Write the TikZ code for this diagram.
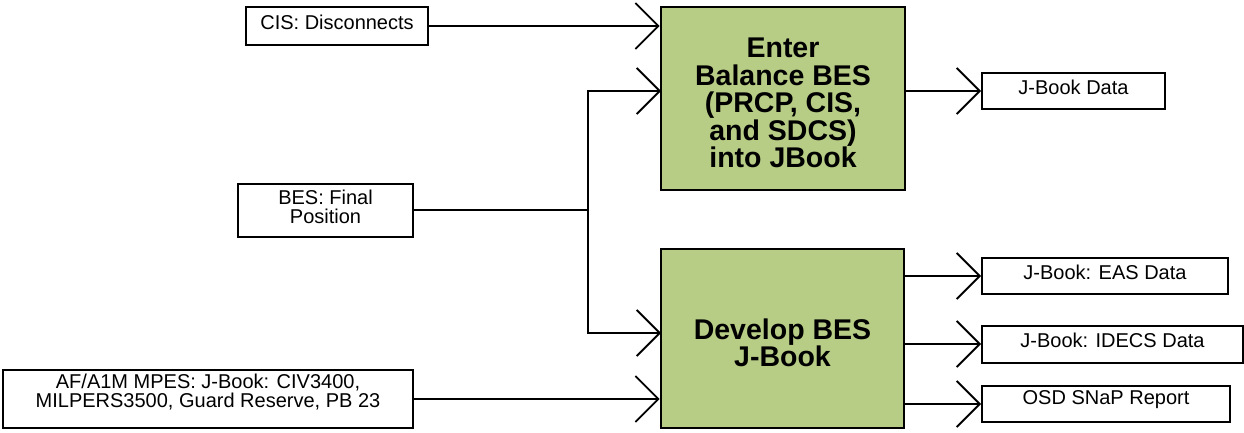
\documentclass[tikz,border=0pt]{standalone}
\usepackage{fontspec}
\setmainfont{Liberation Sans}
\usetikzlibrary{arrows.meta}
\definecolor{boxgreen}{RGB}{183,204,133}
\tikzset{
  wbox/.style={draw=black, line width=2pt, fill=white, inner sep=0pt},
  gbox/.style={draw=black, line width=2.6pt, fill=boxgreen, inner sep=0pt},
  wtxt/.style={font=\fontsize{20}{18.5}\selectfont, align=center, inner sep=0pt},
  gtxt/.style={font=\bfseries\fontsize{28.5}{27.5}\selectfont, align=center, inner sep=0pt},
  conn/.style={line width=1.8pt, -{Straight Barb[length=23pt,width=46pt,line width=1.8pt]}},
  plain/.style={line width=1.8pt}
}
\begin{document}
\begin{tikzpicture}[x=1pt,y=-1pt]
\useasboundingbox (0,0) rectangle (1244,433);
% inputs
\node[wbox, minimum width=182pt, minimum height=38pt,
  label={[wtxt, yshift=4pt]center:CIS: Disconnects}] (cis) at (337,26) {};
\node[wbox, minimum width=175pt, minimum height=53pt,
  label={[wtxt, yshift=3pt]center:BES: Final\\Position}] (bes) at (325.5,210) {};
\node[wbox, minimum width=410pt, minimum height=58pt,
  label={[wtxt, yshift=7pt]center:AF/A1M MPES: J-Book: CIV3400,\\MILPERS3500, Guard Reserve, PB 23}] (af) at (208,399) {};
% processes
\node[gbox, minimum width=244pt, minimum height=183pt,
  label={[gtxt, yshift=-4.5pt]center:Enter\\Balance BES\\(PRCP, CIS,\\and SDCS)\\into JBook}] (enter) at (783,98.5) {};
\node[gbox, minimum width=243pt, minimum height=179pt,
  label={[gtxt, yshift=-4.5pt]center:Develop BES\\J-Book}] (dev) at (782.5,338.5) {};
% outputs
\node[wbox, minimum width=183pt, minimum height=36pt,
  label={[wtxt, yshift=4pt]center:J-Book Data}] (jbd) at (1073.5,91) {};
\node[wbox, minimum width=246pt, minimum height=36pt,
  label={[wtxt, yshift=4pt]center:J-Book: EAS Data}] (eas) at (1105,276) {};
\node[wbox, minimum width=261pt, minimum height=37pt,
  label={[wtxt, yshift=4pt]center:J-Book: IDECS Data}] (idecs) at (1112.5,344) {};
\node[wbox, minimum width=248pt, minimum height=36pt,
  label={[wtxt, yshift=4pt]center:OSD SNaP Report}] (osd) at (1106,404) {};
% connectors
\path (bes.east) -- ++(174,0) coordinate (j);
\coordinate (ein2) at (661,91);
\coordinate (din1) at (661,333);
\draw[conn] (cis.east) -- (cis.east -| enter.west);
\draw[plain] (bes.east) -- (j);
\draw[conn] (j) |- (ein2);
\draw[conn] (j) |- (din1);
\draw[conn] (af.east) -- (af.east -| dev.west);
\draw[conn] (enter.east |- jbd.west) -- (jbd.west);
\draw[conn] (dev.east |- eas.west) -- (eas.west);
\draw[conn] (dev.east |- idecs.west) -- (idecs.west);
\draw[conn] (dev.east |- osd.west) -- (osd.west);
\end{tikzpicture}
\end{document}
